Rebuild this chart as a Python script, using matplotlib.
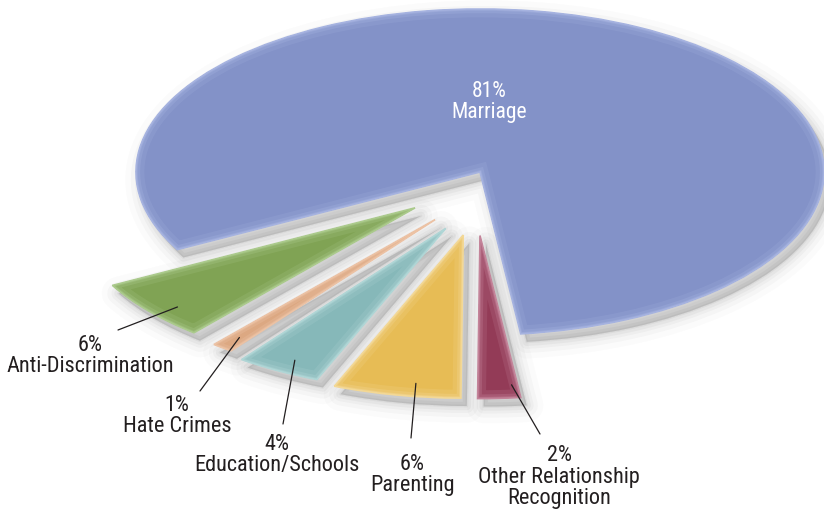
import matplotlib
matplotlib.use("Agg")
import matplotlib.pyplot as plt
import matplotlib.transforms as mtransforms
from matplotlib.patches import PathPatch
import numpy as np

# share of issue coverage
topics = ["Marriage", "Anti-Discrimination", "Hate Crimes", "Education/Schools",
          "Parenting", "Other Relationship\nRecognition"]
shares = [81, 6, 1, 4, 6, 2]

face_colors = ["#8392c8", "#80a354", "#d9a27a", "#86b8b9", "#e7bc55", "#933b57"]
rim_colors = ["#a6b3e0", "#abca8c", "#ecc2a4", "#b0d6d6", "#f3d896", "#c4849a"]
pull_out = [0.0, 0.29, 0.32, 0.36, 0.39, 0.39]
lean_down = [0.0, 0.2, 0.37, 0.45, 0.36, 1.0]

# label placement (pixels from top-left) and leader-line start points
label_xy = [(489, 102), (90, 356), (177, 416), (277, 455), (412, 475), (559, 477)]
leader_from = [None, (118, 330), (200, 391), (283, 424), (411, 438), (540, 434)]
leader_frac = [None, 0.6, 0.5, 0.55, 0.62, 0.85]

W, H = 824, 513
CX, CY, RX, RY = 480, 172, 344, 163
FONT = ["Roboto Condensed", "DejaVu Sans"]


def px_to_fig(x, y):
    return x / W, 1 - y / H


fig = plt.figure(figsize=(W / 100, H / 100), dpi=100)
ax = fig.add_axes([0, 0, 1, 1])
wedges, _ = ax.pie(shares, startangle=276.8, counterclock=True, colors=face_colors)
ax.set_aspect("auto")
ax.set_xlim(-CX / RX, (W - CX) / RX)
ax.set_ylim(-(H - CY) / RY, CY / RY)
ax.axis("off")

shadow_tr = mtransforms.offset_copy(ax.transData, fig=fig, x=6, y=-8, units="dots")

for i, w in enumerate(wedges):
    # pull the small slices out, leaning towards the bottom
    mid = (0.5 * (w.theta1 + w.theta2)) % 360
    ang = np.deg2rad(mid + lean_down[i] * (270 - mid))
    w.set_center((pull_out[i] * np.cos(ang), pull_out[i] * np.sin(ang)))
    w.set_edgecolor(rim_colors[i])
    w.set_linewidth(1.2)
    w.set_zorder(2)

    # soft drop shadow
    for lw, a in [(24, 0.02), (16, 0.03), (10, 0.04), (6, 0.05), (2, 0.06)]:
        sp = PathPatch(w.get_path(), transform=shadow_tr, fc="#444444", ec="#444444",
                       lw=lw, alpha=a, zorder=0.5, joinstyle="round")
        ax.add_patch(sp)

    # lighter rim inside the slice
    for lw, a in [(12, 0.2), (6, 0.3), (2.5, 0.45)]:
        gp = PathPatch(w.get_path(), transform=ax.transData, fc="none",
                       ec=rim_colors[i], lw=lw, alpha=a, zorder=2.1)
        ax.add_patch(gp)
        gp.set_clip_path(w)

for i, w in enumerate(wedges):
    tx, ty = px_to_fig(*label_xy[i])
    color = "white" if i == 0 else "#231f20"
    fig.text(tx, ty, f"{shares[i]}%\n{topics[i]}", ha="center", va="center",
             fontsize=16 if i else 15.5, color=color, family=FONT,
             linespacing=1.05 if i else 0.95, zorder=5)
    if leader_from[i] is None:
        continue
    a = np.deg2rad(w.theta1 + leader_frac[i] * (w.theta2 - w.theta1))
    cx, cy = w.center
    end = (cx + 0.92 * w.r * np.cos(a), cy + 0.92 * w.r * np.sin(a))
    ax.annotate("", xy=end, xycoords="data",
                xytext=px_to_fig(*leader_from[i]), textcoords="figure fraction",
                arrowprops=dict(arrowstyle="-", color="#231f20", lw=0.9,
                                shrinkA=0, shrinkB=0), zorder=4)

fig.savefig("out.png", dpi=100)
